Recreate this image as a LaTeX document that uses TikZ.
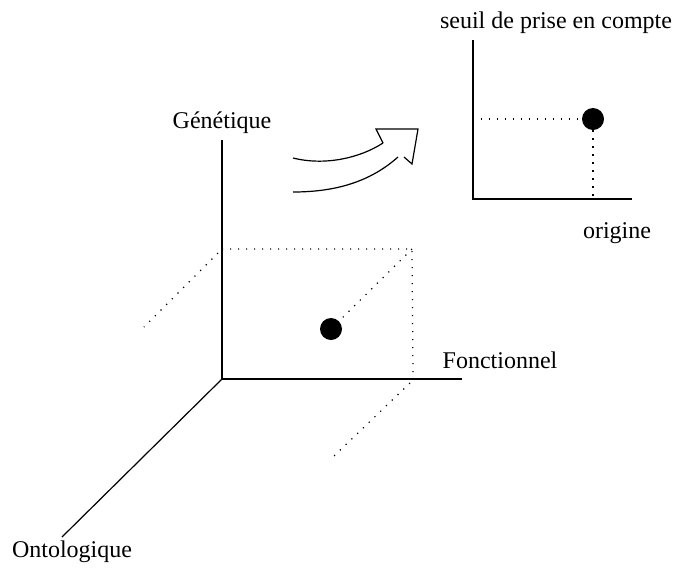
\documentclass[tikz,border=0pt]{standalone}
\usepackage{fontspec}
\setmainfont{Liberation Serif}
\begin{document}
\begin{tikzpicture}[x=0.5pt,y=-0.5pt,
  axis/.style={line width=0.6pt},
  dots/.style={line width=0.6pt,dash pattern=on 0.6pt off 3.4pt},
  lbl/.style={font=\fontsize{12}{14}\selectfont,anchor=base,inner sep=0pt},
  pt/.style={circle,fill=black,inner sep=0pt,minimum size=11pt}]
\useasboundingbox (0,0) rectangle (675,574);
% main 3D axes
\coordinate (O) at (222,379);
\coordinate (Gtop) at (222,140);
\coordinate (Fend) at (462,379);
\coordinate (Oend) at (62,537);
\draw[axis] (O) -- (Gtop);
\draw[axis] (O) -- (Fend);
\draw[axis] (O) -- (Oend);
\node[lbl] (gen) at (222,128) {Génétique};
\node[lbl] (fon) at (500,368) {Fonctionnel};
\node[lbl] (ont) at (72,557) {Ontologique};
% dotted projections
\coordinate (a1) at (222,249);
\coordinate (a2) at (412,249);
\coordinate (a3) at (413,375);
\coordinate (b1) at (218,253);
\coordinate (b2) at (144,327);
\coordinate (c1) at (410,383);
\coordinate (c2) at (334,456);
\node[pt] (p) at (331,329) {};
\draw[dots] (a1) -- (a2) -- (a3);
\draw[dots] (a2) -- (p);
\draw[dots] (b1) -- (b2);
\draw[dots] (c1) -- (c2);
% curved arrow
\coordinate (u1) at (293,158);
\coordinate (u2) at (383,143);
\coordinate (l1) at (293,192);
\coordinate (l2) at (398,157);
\coordinate (h1) at (376,129);
\coordinate (h2) at (418,129);
\coordinate (h3) at (412,164);
\coordinate (h4) at (404,157);
\draw[axis] (u1) .. controls (325,166) and (360,158) .. (u2);
\draw[axis] (l1) .. controls (335,192) and (370,182) .. (l2);
\draw[axis,line join=miter] (u2) -- (h1) -- (h2) -- (h3) -- (h4);
% small chart
\coordinate (s0) at (473,199);
\coordinate (sy) at (473,40);
\coordinate (sx) at (632,199);
\draw[axis] (sy) -- (s0) -- (sx);
\node[pt] (q) at (593,119) {};
\coordinate (qy) at (473,119);
\coordinate (qx) at (593,196);
\draw[dots] (qy) -- (q.west);
\draw[dots] (q.south) -- (qx);
\node[lbl] (seuil) at (556,28) {seuil de prise en compte};
\node[lbl] (orig) at (617,238) {origine};
\end{tikzpicture}
\end{document}
